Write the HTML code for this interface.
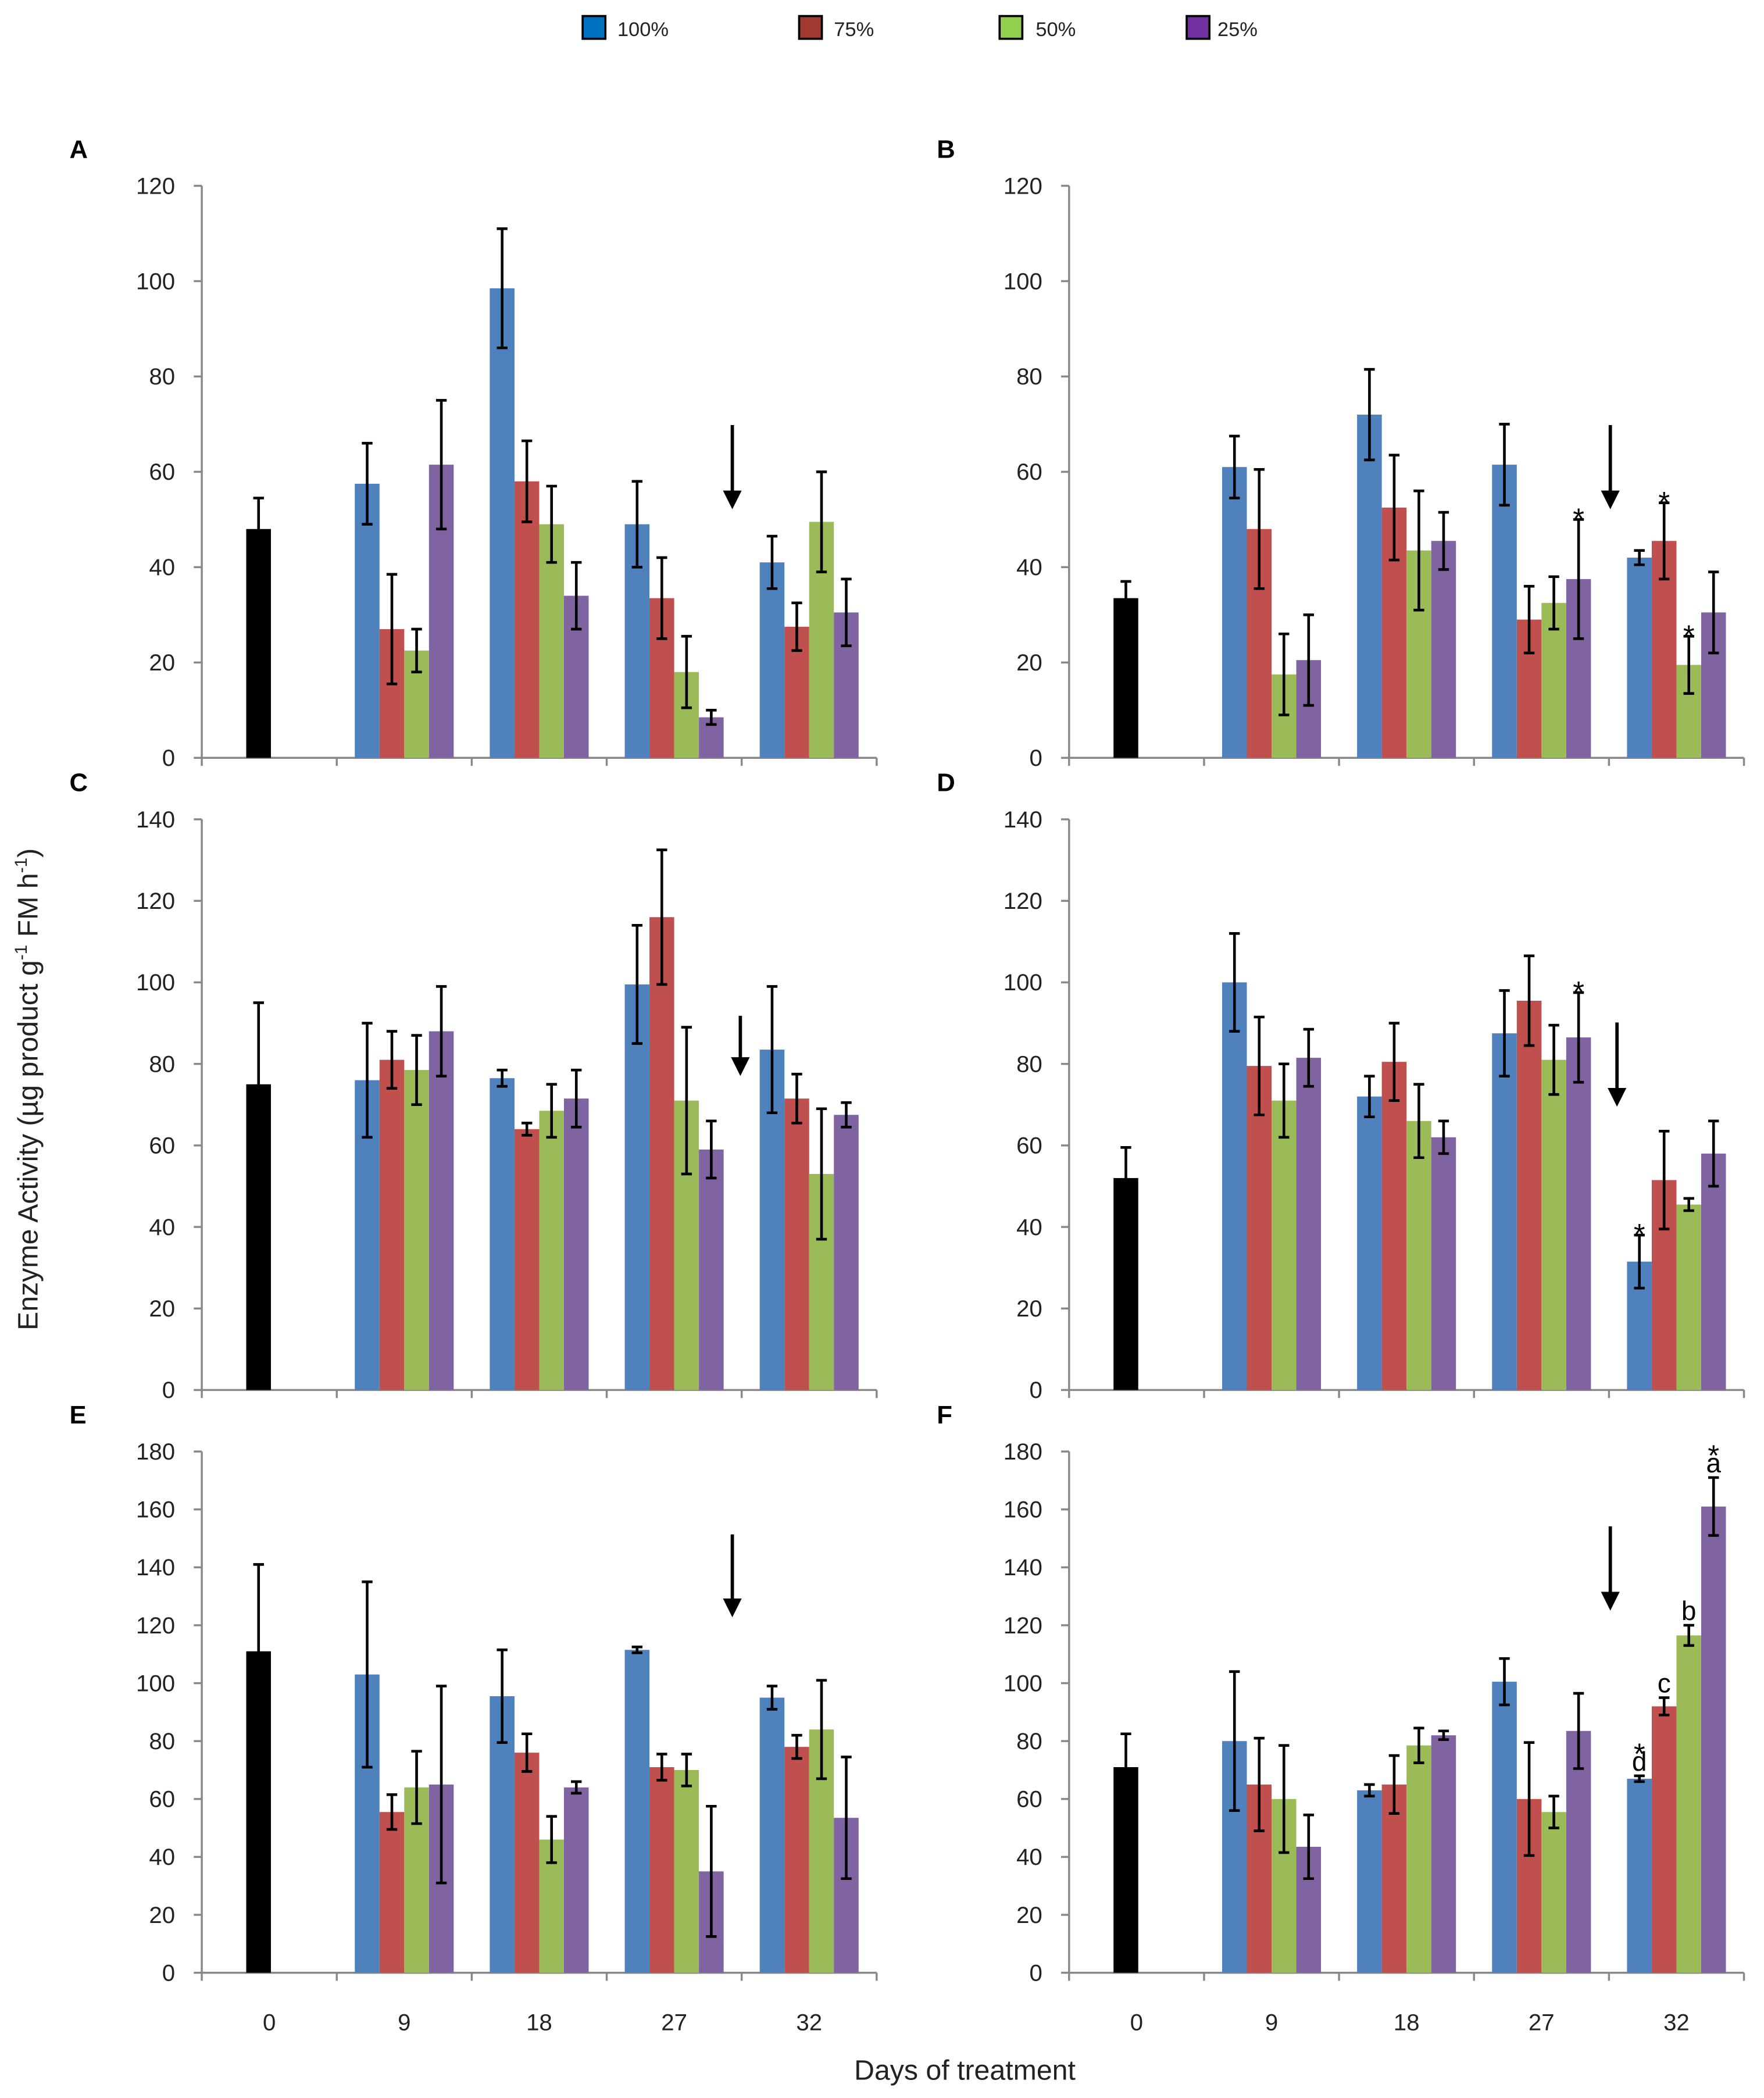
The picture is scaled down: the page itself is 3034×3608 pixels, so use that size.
<!DOCTYPE html>
<html><head><meta charset="utf-8"><style>
html,body{margin:0;padding:0;background:#fff}
svg{display:block}
text{font-family:"Liberation Sans",sans-serif}
</style></head><body>
<svg id="chart" xmlns="http://www.w3.org/2000/svg" width="3034" height="3608" viewBox="0 0 1320 1569.7">
<rect width="1320" height="1569.7" fill="#fff"/>
</svg>
<script>
const categories = ["0","9","18","27","32"];
const seriesNames = ["100%","75%","50%","25%"];
// panel data: control at day 0, then 4 series x 4 days (9,18,27,32)
const ctrlA=[48,6.5], ctrlB=[33.5,3.5], ctrlC=[75,20], ctrlD=[52,7.5], ctrlE=[111,30], ctrlF=[71,11.5];
const valsA=[[57.5,98.5,49,41],[27,58,33.5,27.5],[22.5,49,18,49.5],[61.5,34,8.5,30.5]];
const errsA=[[8.5,12.5,9,5.5],[11.5,8.5,8.5,5],[4.5,8,7.5,10.5],[13.5,7,1.5,7]];
const valsB=[[61,72,61.5,42],[48,52.5,29,45.5],[17.5,43.5,32.5,19.5],[20.5,45.5,37.5,30.5]];
const errsB=[[6.5,9.5,8.5,1.5],[12.5,11,7,8],[8.5,12.5,5.5,6],[9.5,6,12.5,8.5]];
const valsC=[[76,76.5,99.5,83.5],[81,64,116,71.5],[78.5,68.5,71,53],[88,71.5,59,67.5]];
const errsC=[[14,2,14.5,15.5],[7,1.5,16.5,6],[8.5,6.5,18,16],[11,7,7,3]];
const valsD=[[100,72,87.5,31.5],[79.5,80.5,95.5,51.5],[71,66,81,45.5],[81.5,62,86.5,58]];
const errsD=[[12,5,10.5,6.5],[12,9.5,11,12],[9,9,8.5,1.5],[7,4,11,8]];
const valsE=[[103,95.5,111.5,95],[55.5,76,71,78],[64,46,70,84],[65,64,35,53.5]];
const errsE=[[32,16,1,4],[6,6.5,4.5,4],[12.5,8,5.5,17],[34,2,22.5,21]];
const valsF=[[80,63,100.5,67],[65,65,60,92],[60,78.5,55.5,116.5],[43.5,82,83.5,161]];
const errsF=[[24,2,8,1],[16,10,19.5,3],[18.5,6,5.5,3.5],[11,1.5,13,10]];
const yTicksAB=[0,20,40,60,80,100,120], yTicksCD=[0,20,40,60,80,100,120,140], yTicksEF=[0,20,40,60,80,100,120,140,160,180];
// annotations: [series, dayIndex, text]
const annB=[[3,2,"*"],[1,3,"*"],[2,3,"*"]], annD=[[3,2,"*"],[0,3,"*"]], annF=[[0,3,"d"],[0,3,"*"],[1,3,"c"],[2,3,"b"],[3,3,"a"],[3,3,"*"]];
</script>
<script>
const NS="http://www.w3.org/2000/svg";
const svg=document.getElementById('chart');
const colors=["#4f81bd","#c0504d","#9bbb59","#8064a2"];
const legendColors=["#0070c0","#a0392f","#92d050","#7030a0"];
function el(tag,attrs,parent,txt){const e=document.createElementNS(NS,tag);for(const k in attrs)e.setAttribute(k,attrs[k]);if(txt!==undefined)e.textContent=txt;(parent||svg).appendChild(e);return e;}
const legX=[436,598,748,888], legTX=[462,624,775,911];
seriesNames.forEach((n,i)=>{
  const g=el('g',{});
  
  
  el('rect',{x:legX[i],y:12,width:17,height:17,fill:legendColors[i],stroke:'#000','stroke-width':1.6},g);
  el('text',{x:legTX[i],y:27,'font-size':15,fill:'#222'},g,n);
});
function panel(letter,x0,yTop,y0,max,ticks,ctrl,vals,errs,arrow,ann,showX){
  const g=el('g',{});
  
  
  const cw=101, xEnd=x0+5*cw;
  const Y=v=>y0-(v/max)*(y0-yTop);
  const X=i=>x0+cw*(i+0.5);
  const lt=el('text',{x:x0-99,y:yTop-21,'font-size':19,'font-weight':'bold'},g,letter);
  
  
  el('line',{x1:x0,y1:yTop,x2:x0,y2:y0,stroke:'#888','stroke-width':1.5},g);
  el('line',{x1:x0,y1:y0,x2:xEnd,y2:y0,stroke:'#888','stroke-width':1.5},g);
  ticks.forEach(t=>{
    el('line',{x1:x0-6,y1:Y(t),x2:x0,y2:Y(t),stroke:'#888','stroke-width':1.5},g);
    const tl=el('text',{x:x0-20,y:Y(t)+6,'font-size':17.5,'text-anchor':'end',fill:'#222'},g,String(t));
    
    
  });
  for(let i=0;i<=5;i++) el('line',{x1:x0+cw*i,y1:y0,x2:x0+cw*i,y2:y0+6,stroke:'#888','stroke-width':1.5},g);
  if(showX) categories.forEach((c,i)=>{
    const xl=el('text',{x:X(i),y:y0+43,'font-size':17.5,'text-anchor':'middle',fill:'#222'},g,c);
    
    
  });
  const w=18.5;
  function errbar(cx,v,e){
    el('line',{x1:cx,y1:Y(v+e),x2:cx,y2:Y(v-e),stroke:'#000','stroke-width':2},g);
    el('line',{x1:cx-4,y1:Y(v+e),x2:cx+4,y2:Y(v+e),stroke:'#000','stroke-width':2},g);
    el('line',{x1:cx-4,y1:Y(v-e),x2:cx+4,y2:Y(v-e),stroke:'#000','stroke-width':2},g);
  }
  const cb=X(0)-8;
  const b0=el('rect',{x:cb-w/2,y:Y(ctrl[0]),width:w,height:y0-Y(ctrl[0]),fill:'#000'},g);
  
  
  errbar(cb,ctrl[0],ctrl[1]);
  vals.forEach((row,s)=>row.forEach((v,d)=>{
    const cx=X(d+1)+(s-1.5)*w;
    const b=el('rect',{x:cx-w/2,y:Y(v),width:w,height:y0-Y(v),fill:colors[s]},g);
    
    
  }));
  vals.forEach((row,s)=>row.forEach((v,d)=>errbar(X(d+1)+(s-1.5)*w,v,errs[s][d])));
  const a=el('g',{},g);
  
  
  el('line',{x1:arrow[0],y1:arrow[1],x2:arrow[0],y2:arrow[2]-10,stroke:'#000','stroke-width':2.5},a);
  el('polygon',{points:`${arrow[0]-7},${arrow[2]-14} ${arrow[0]+7},${arrow[2]-14} ${arrow[0]},${arrow[2]}`,fill:'#000'},a);
  if(ann){
    const used={};
    ann.forEach(([s,d,t])=>{
      const key=s+'-'+d; const n=used[key]||0; used[key]=n+1;
      const cx=X(d+1)+(s-1.5)*w;
      const top=Y(vals[s][d]+errs[s][d]);
      const isStar=t==='*';
      const ty=top-4-(n*(isStar?16:18));
      const at=el('text',{x:cx,y:isStar?ty+11:ty,'font-size':isStar?22:20,'text-anchor':'middle',fill:'#000'},g,t);
      
      
    });
  }
}
panel('A',151,139,567,120,yTicksAB,ctrlA,valsA,errsA,[548,318,381],null,false);
panel('B',800,139,567,120,yTicksAB,ctrlB,valsB,errsB,[1205,318,381],annB,false);
panel('C',151,613,1040,140,yTicksCD,ctrlC,valsC,errsC,[554,760,805],null,false);
panel('D',800,613,1040,140,yTicksCD,ctrlD,valsD,errsD,[1210,765,828],annD,false);
panel('E',151,1086,1476,180,yTicksEF,ctrlE,valsE,errsE,[548,1148,1210],null,true);
panel('F',800,1086,1476,180,yTicksEF,ctrlF,valsF,errsF,[1205,1142,1205],annF,true);
const xt=el('text',{x:722,y:1556,'font-size':21,'text-anchor':'middle',fill:'#222'},svg,'Days of treatment');


const yt=el('text',{x:0,y:0,'font-size':21,'text-anchor':'middle',fill:'#222',transform:'translate(28,815) rotate(-90)'},svg);


yt.innerHTML='Enzyme Activity (µg product g<tspan dy="-8" font-size="13">-1</tspan><tspan dy="8"> FM h</tspan><tspan dy="-8" font-size="13">-1</tspan><tspan dy="8">)</tspan>';
</script>
</body></html>
